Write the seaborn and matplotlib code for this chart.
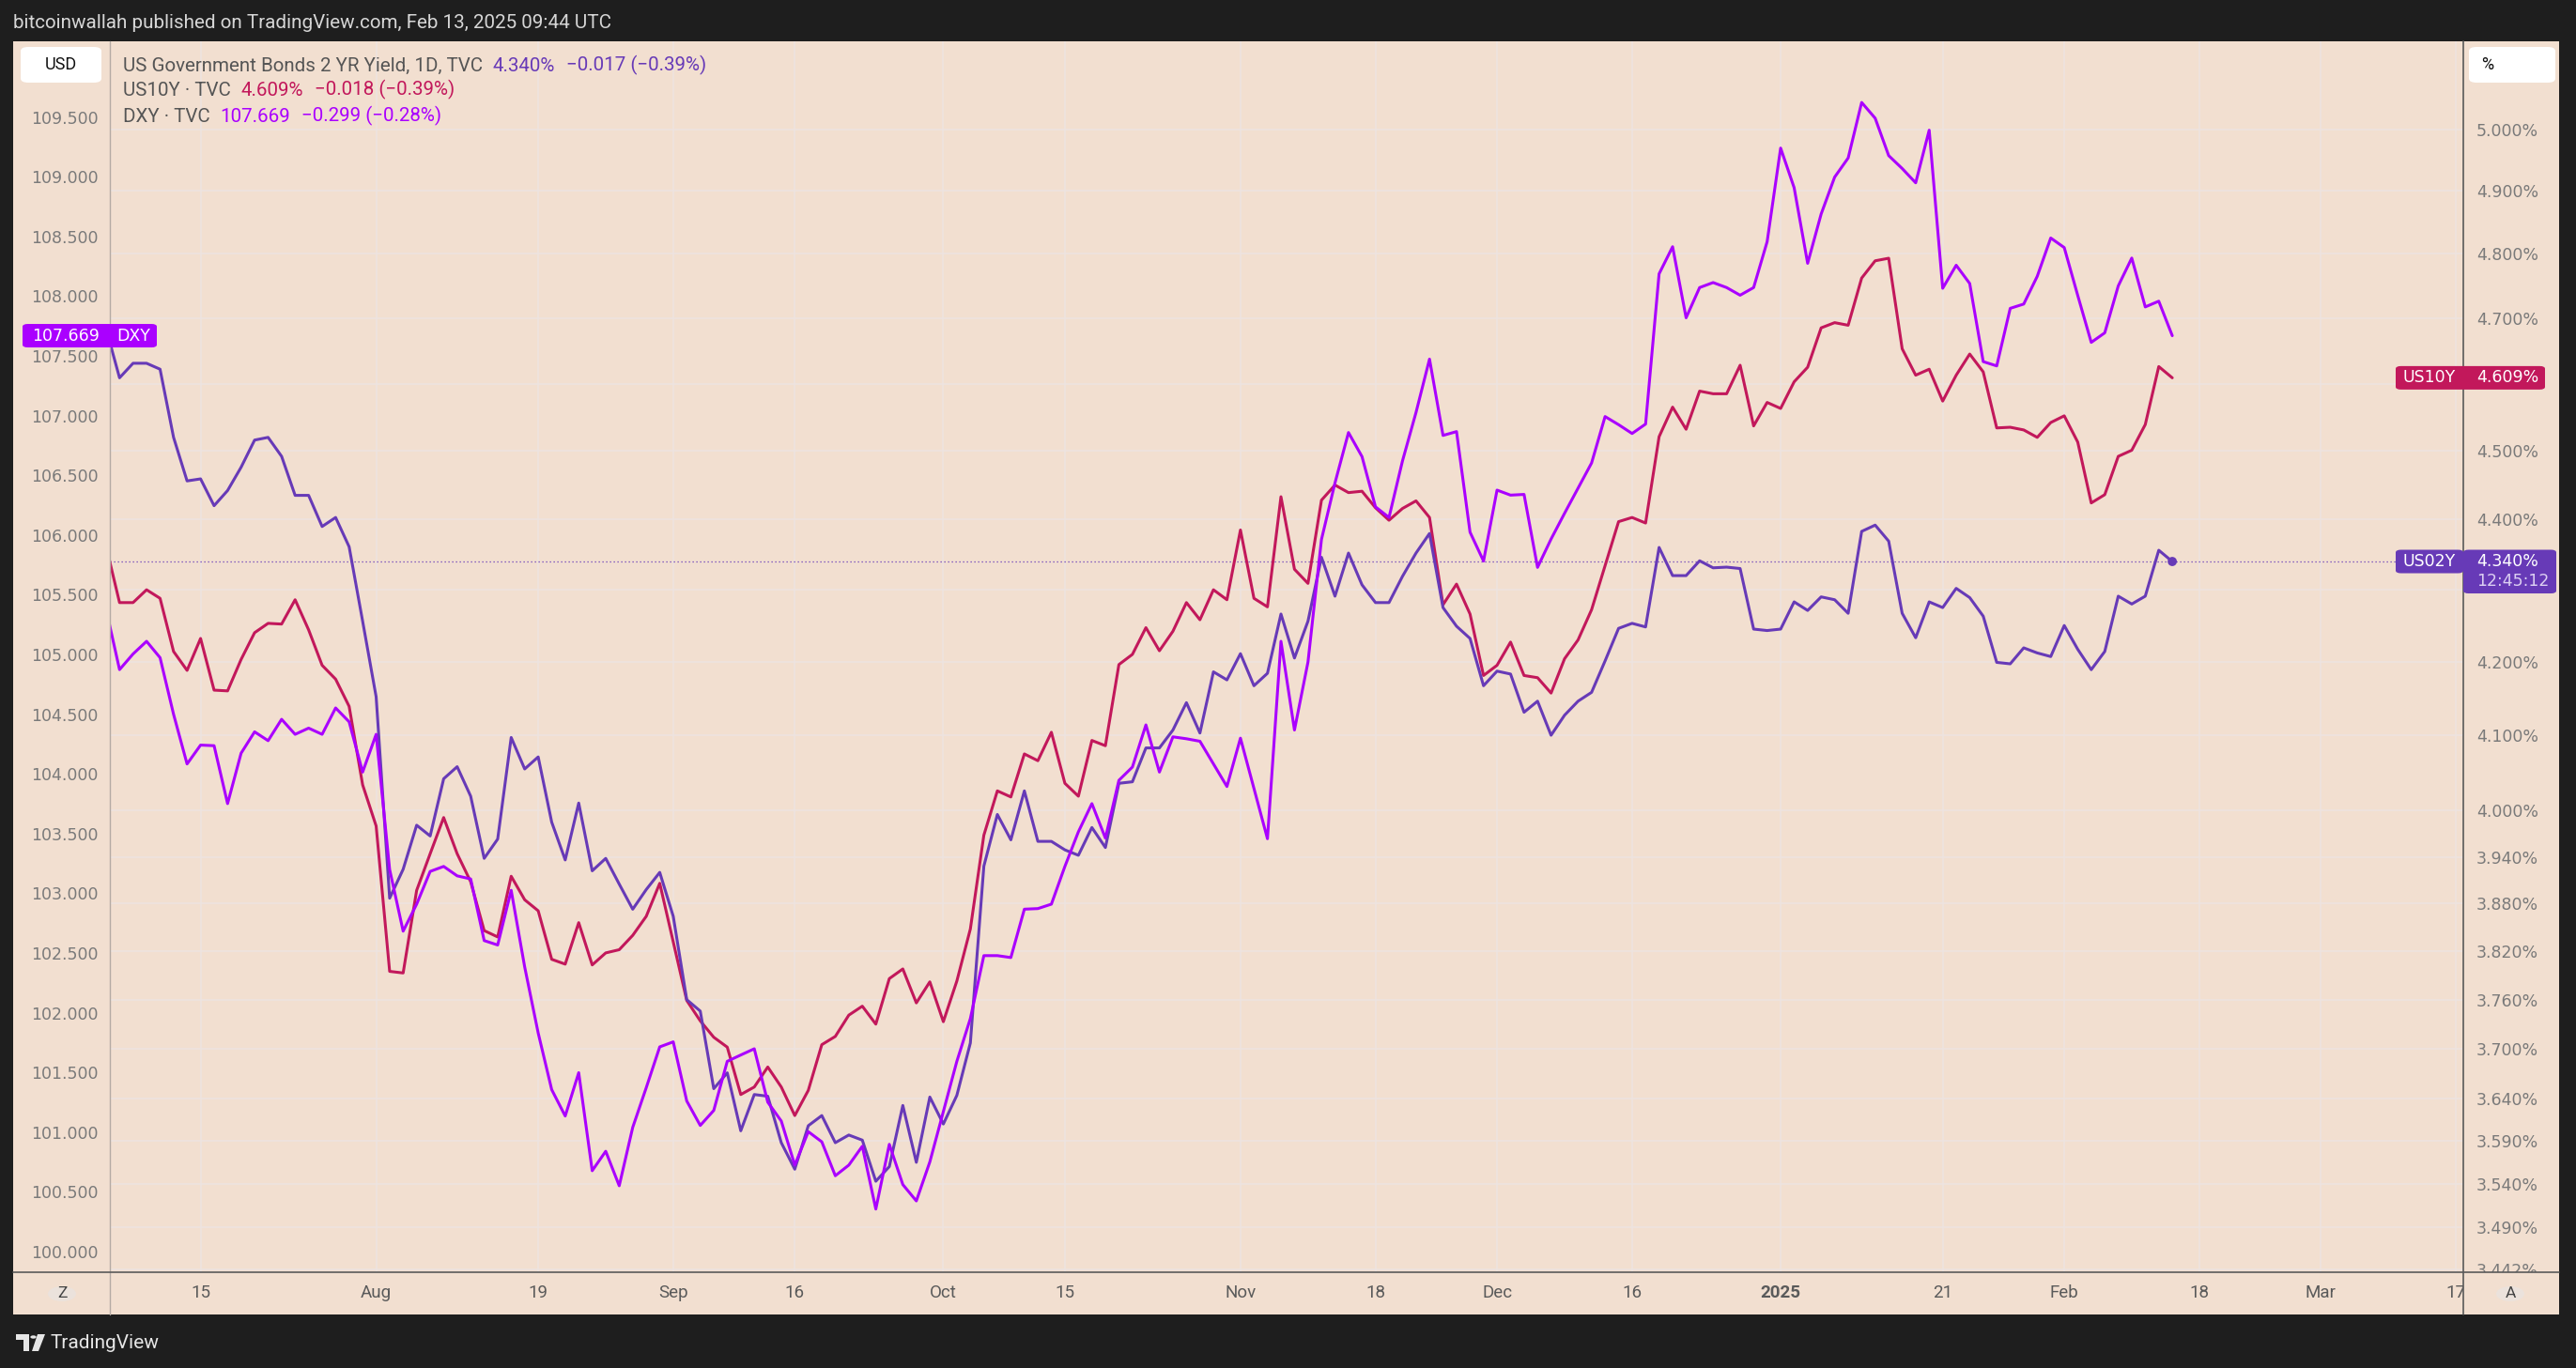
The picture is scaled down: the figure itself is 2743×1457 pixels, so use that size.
import numpy as np
import pandas as pd
import matplotlib
matplotlib.use("Agg")
import matplotlib.pyplot as plt
import seaborn as sns
from matplotlib.patches import Rectangle, FancyBboxPatch, Circle, Polygon
from matplotlib.ticker import FixedLocator, NullLocator, FixedFormatter

# ---------------------------------------------------------------- data
holidays = ["2024-07-04", "2024-09-02", "2024-10-14", "2024-11-11", "2024-11-28",
            "2024-12-25", "2025-01-01", "2025-01-20", "2025-02-17"]
first_date = "2024-07-03"
calendar_end = "2025-03-31"

us02y = [4.684, 4.609, 4.631, 4.631, 4.622, 4.520, 4.456, 4.459, 4.420, 4.442,
         4.476, 4.516, 4.520, 4.492, 4.435, 4.435, 4.390, 4.403, 4.361, 4.256,
         4.152, 3.887, 3.924, 3.981, 3.967, 4.042, 4.058, 4.019, 3.938, 3.963,
         4.097, 4.055, 4.071, 3.985, 3.936, 4.010, 3.922, 3.938, 3.905, 3.873,
         3.898, 3.920, 3.864, 3.760, 3.746, 3.652, 3.671, 3.602, 3.645, 3.643,
         3.588, 3.557, 3.608, 3.620, 3.588, 3.597, 3.591, 3.543, 3.560, 3.632,
         3.565, 3.642, 3.610, 3.644, 3.707, 3.928, 3.995, 3.962, 4.026, 3.960,
         3.960, 3.949, 3.942, 3.978, 3.952, 4.036, 4.038, 4.083, 4.083, 4.107,
         4.144, 4.103, 4.186, 4.175, 4.211, 4.167, 4.184, 4.266, 4.205, 4.256,
         4.346, 4.291, 4.352, 4.307, 4.282, 4.282, 4.319, 4.352, 4.380, 4.275,
         4.249, 4.232, 4.167, 4.187, 4.183, 4.131, 4.146, 4.100, 4.127, 4.146,
         4.158, 4.201, 4.246, 4.253, 4.248, 4.360, 4.320, 4.320, 4.341, 4.331,
         4.332, 4.330, 4.245, 4.243, 4.245, 4.283, 4.271, 4.290, 4.286, 4.267,
         4.383, 4.392, 4.369, 4.267, 4.233, 4.283, 4.275, 4.302, 4.289, 4.263,
         4.199, 4.197, 4.219, 4.212, 4.207, 4.250, 4.217, 4.189, 4.214, 4.291,
         4.280, 4.291, 4.356, 4.340]

us10y = [4.362, 4.282, 4.282, 4.300, 4.288, 4.214, 4.188, 4.232, 4.161, 4.160,
         4.203, 4.240, 4.253, 4.252, 4.286, 4.244, 4.195, 4.176, 4.139, 4.034,
         3.980, 3.795, 3.793, 3.897, 3.944, 3.991, 3.944, 3.908, 3.846, 3.838,
         3.915, 3.885, 3.871, 3.810, 3.804, 3.856, 3.803, 3.818, 3.822, 3.840,
         3.864, 3.906, 3.832, 3.759, 3.734, 3.714, 3.702, 3.645, 3.654, 3.678,
         3.654, 3.620, 3.650, 3.705, 3.715, 3.741, 3.752, 3.730, 3.786, 3.798,
         3.756, 3.782, 3.733, 3.783, 3.848, 3.968, 4.026, 4.018, 4.075, 4.066,
         4.104, 4.036, 4.019, 4.093, 4.086, 4.196, 4.210, 4.247, 4.215, 4.242,
         4.282, 4.258, 4.300, 4.286, 4.385, 4.288, 4.276, 4.433, 4.329, 4.309,
         4.428, 4.450, 4.439, 4.441, 4.417, 4.399, 4.416, 4.427, 4.403, 4.279,
         4.308, 4.266, 4.181, 4.195, 4.227, 4.181, 4.178, 4.157, 4.204, 4.230,
         4.272, 4.334, 4.397, 4.403, 4.395, 4.521, 4.565, 4.532, 4.589, 4.585,
         4.585, 4.628, 4.537, 4.572, 4.563, 4.603, 4.625, 4.685, 4.693, 4.689,
         4.762, 4.789, 4.793, 4.653, 4.613, 4.622, 4.574, 4.613, 4.645, 4.618,
         4.534, 4.535, 4.531, 4.520, 4.542, 4.552, 4.513, 4.424, 4.436, 4.492,
         4.501, 4.539, 4.626, 4.609]

dxy = [105.380, 104.873, 105.004, 105.110, 104.973, 104.499, 104.083, 104.241, 104.236, 103.751,
       104.173, 104.352, 104.278, 104.457, 104.331, 104.383, 104.331, 104.552, 104.436, 104.015,
       104.331, 103.199, 102.683, 102.909, 103.183, 103.225, 103.146, 103.120, 102.604, 102.567,
       103.025, 102.383, 101.830, 101.356, 101.135, 101.498, 100.677, 100.840, 100.551, 101.040,
       101.372, 101.714, 101.756, 101.261, 101.056, 101.182, 101.593, 101.646, 101.698, 101.251,
       101.093, 100.724, 101.004, 100.919, 100.635, 100.724, 100.882, 100.356, 100.898, 100.561,
       100.424, 100.751, 101.172, 101.593, 101.951, 102.478, 102.478, 102.462, 102.867, 102.872,
       102.909, 103.225, 103.515, 103.751, 103.462, 103.946, 104.057, 104.410, 104.015, 104.310,
       104.294, 104.273, 104.083, 103.894, 104.299, 103.878, 103.457, 105.110, 104.367, 104.936,
       105.963, 106.436, 106.858, 106.657, 106.236, 106.147, 106.621, 107.026, 107.473, 106.834,
       106.866, 106.024, 105.782, 106.376, 106.334, 106.340, 105.729, 105.966, 106.182, 106.392,
       106.603, 106.992, 106.924, 106.850, 106.929, 108.187, 108.414, 107.819, 108.072, 108.114,
       108.072, 108.008, 108.072, 108.456, 109.240, 108.908, 108.275, 108.688, 108.997, 109.157,
       109.622, 109.490, 109.177, 109.069, 108.949, 109.390, 108.066, 108.259, 108.106, 107.452,
       107.416, 107.898, 107.934, 108.166, 108.487, 108.407, 108.006, 107.613, 107.693, 108.086,
       108.319, 107.910, 107.958, 107.669]

legend_titles = ["US Government Bonds 2 YR Yield, 1D, TVC", "US10Y \u00b7 TVC", "DXY \u00b7 TVC"]
legend_values = ["4.340%", "4.609%", "107.669"]
legend_changes = ["\u22120.017 (\u22120.39%)", "\u22120.018 (\u22120.39%)", "\u22120.299 (\u22120.28%)"]

tick_dates = ["2024-07-15", "2024-08-01", "2024-08-19", "2024-09-03", "2024-09-16",
              "2024-10-01", "2024-10-15", "2024-11-01", "2024-11-18", "2024-12-02",
              "2024-12-16", "2025-01-02", "2025-01-21", "2025-02-03", "2025-02-18",
              "2025-03-03", "2025-03-17"]
tick_labels = ["15", "Aug", "19", "Sep", "16", "Oct", "15", "Nov", "18", "Dec",
               "16", "2025", "21", "Feb", "18", "Mar", "17"]

right_ticks = [5.0, 4.9, 4.8, 4.7, 4.6, 4.5, 4.4, 4.3, 4.2, 4.1, 4.0, 3.94, 3.88,
               3.82, 3.76, 3.70, 3.64, 3.59, 3.54, 3.49, 3.442]
right_hidden = [4.6, 4.3]          # labels covered by the last-price tags
left_ticks = [100.0, 100.5, 101.0, 101.5, 102.0, 102.5, 103.0, 103.5, 104.0, 104.5,
              105.0, 105.5, 106.0, 106.5, 107.0, 107.5, 108.0, 108.5, 109.0, 109.5]

header_text = "bitcoinwallah published on TradingView.com, Feb 13, 2025 09:44 UTC"
countdown = "12:45:12"

# ---------------------------------------------------------------- style
C02, C10, CDX = "#673AB7", "#C2185B", "#AA00FF"
BG = "#F2DFD0"
DARK = "#1E1E1E"
GRID = "#EDE4E0"
AXTXT = "#7A7A7A"
LW = 2.2

sns.set_style("white")
plt.rcParams["font.family"] = ["Roboto", "DejaVu Sans"]
AXFONT = ["DejaVu Sans"]

W, H, DPI = 2743, 1457, 100
fig = plt.figure(figsize=(W / DPI, H / DPI), dpi=DPI, facecolor=DARK)

def fx(px):
    return px / W

def fy(py):
    return 1 - py / H

PL, PR, PT, PB = 117, 2623, 44, 1355
PANEL_L, PANEL_R, PANEL_B = 14, 2725, 1400

fig.add_artist(Rectangle((fx(PANEL_L), fy(PANEL_B)), fx(PANEL_R - PANEL_L), (PANEL_B - PT) / H,
                         transform=fig.transFigure, facecolor=BG, edgecolor="none", zorder=-1))

cal = pd.bdate_range(first_date, calendar_end, freq="C", holidays=holidays)
n = len(us02y)
df = pd.DataFrame({"bar": np.arange(n), "date": cal[:n],
                   "US02Y": us02y, "US10Y": us10y, "DXY": dxy})

ax = fig.add_axes([fx(PL), fy(PB), fx(PR - PL), (PB - PT) / H])
ax.set_facecolor(BG)
ax_d = ax.twinx()

xmin, xmax = 0.284, 174.55
ax.set_xlim(xmin, xmax)

# yields (log, right scale)
ax.set_yscale("log")
ax.set_ylim(3.439, 5.1458)
sns.lineplot(data=df, x="bar", y="US10Y", ax=ax, color=C10, lw=LW, estimator=None, legend=False)
sns.lineplot(data=df, x="bar", y="US02Y", ax=ax, color=C02, lw=LW, estimator=None, legend=False)
ax.axhline(us02y[-1], color=C02, lw=0.9, ls=(0, (1, 2.2)), zorder=1)
sns.scatterplot(x=[df["bar"].iloc[-1]], y=[us02y[-1]], ax=ax, color=C02, s=50,
                edgecolor="none", zorder=5, legend=False)

ax.yaxis.set_major_locator(FixedLocator(right_ticks))
ax.yaxis.set_minor_locator(NullLocator())
ax.yaxis.set_major_formatter(FixedFormatter(
    ["" if v in right_hidden else f"{v:.3f}%" for v in right_ticks]))
ax.yaxis.tick_right()
ax.tick_params(axis="y", which="both", length=0, pad=10, labelsize=12.5, labelcolor=AXTXT)
for lab in ax.get_yticklabels():
    lab.set_family(AXFONT)

tick_pos = [cal.get_loc(pd.Timestamp(d)) for d in tick_dates]
ax.set_xticks(tick_pos)
ax.tick_params(axis="x", length=0, labelbottom=False)
ax.grid(True, axis="both", color=GRID, lw=1.1)
ax.set_axisbelow(True)
ax.set_xlabel("")
ax.set_ylabel("")
for s in ax.spines.values():
    s.set_visible(False)

# DXY (linear, left scale)
ax_d.set_ylim(99.827, 110.134)
sns.lineplot(data=df, x="bar", y="DXY", ax=ax_d, color=CDX, lw=LW, estimator=None, legend=False)
ax_d.yaxis.tick_left()
ax_d.set_yticks(left_ticks)
ax_d.set_yticklabels([f"{v:.3f}" for v in left_ticks])
ax_d.tick_params(axis="y", length=0, pad=9, labelsize=12.5, labelcolor=AXTXT)
for lab in ax_d.get_yticklabels():
    lab.set_family(AXFONT)
ax_d.set_ylabel("")
ax_d.grid(False)
for s in ax_d.spines.values():
    s.set_visible(False)

# bottom time strip
fig.add_artist(Rectangle((fx(PANEL_L), fy(PANEL_B)), fx(PANEL_R - PANEL_L), (PANEL_B - PB) / H,
                         transform=fig.transFigure, facecolor=BG, edgecolor="none", zorder=0.5))
ax_s = fig.add_axes([fx(PL), fy(PANEL_B), fx(PR - PL), (PANEL_B - PB) / H])
ax_s.set_zorder(1)
ax_s.patch.set_visible(False)
ax_s.set_xlim(xmin, xmax)
ax_s.set_ylim(0, 1)
ax_s.axis("off")
for p, lab in zip(tick_pos, tick_labels):
    ax_s.text(p, 0.5, lab, ha="center", va="center", fontsize=13.5, color="#5a5a5a",
              fontweight="bold" if lab == "2025" else "normal", clip_on=True)

def vline(x, y0, y1, color, lw):
    fig.add_artist(plt.Line2D([fx(x), fx(x)], [fy(y0), fy(y1)], transform=fig.transFigure,
                              color=color, lw=lw, zorder=2))

def hline(y, x0, x1, color, lw):
    fig.add_artist(plt.Line2D([fx(x0), fx(x1)], [fy(y), fy(y)], transform=fig.transFigure,
                              color=color, lw=lw, zorder=2))

vline(PL, PT, PANEL_B, "#B5ABA4", 1.0)
vline(PR, PT, PANEL_B, "#5A5A5A", 1.2)
hline(PB, PANEL_L, PANEL_R, "#5A5A5A", 1.2)

# unit buttons
fig.add_artist(FancyBboxPatch((fx(22), fy(88)), fx(86), 38 / H, boxstyle="round,pad=0,rounding_size=0.003",
                              transform=fig.transFigure, facecolor="white", edgecolor="none", zorder=3))
fig.text(fx(65), fy(69), "USD", ha="center", va="center", fontsize=13, color="#111111", zorder=4)
fig.add_artist(FancyBboxPatch((fx(2629), fy(88)), fx(92), 38 / H, boxstyle="round,pad=0,rounding_size=0.003",
                              transform=fig.transFigure, facecolor="white", edgecolor="none", zorder=3))
fig.text(fx(2642), fy(69), "%", ha="left", va="center", fontsize=13, color="#111111", zorder=4)

for cx, t in [(66, "Z"), (2673, "A")]:
    fig.add_artist(Circle((fx(cx), fy(1378)), 15 / W, transform=fig.transFigure,
                          facecolor="#EBE2DC", edgecolor="none", zorder=3))
    fig.text(fx(cx), fy(1378), t, ha="center", va="center", fontsize=12.5, color="#444444", zorder=4)

# price labels on the scales
def yfig(axis, v):
    return axis.transData.transform((0, v))[1] / fig.bbox.height

def box(x0, x1, yc, h_top, h_bot, color):
    fig.add_artist(FancyBboxPatch((fx(x0), yc - h_bot / H), fx(x1 - x0), (h_top + h_bot) / H,
                                  boxstyle="round,pad=0,rounding_size=0.002",
                                  transform=fig.transFigure, facecolor=color, edgecolor="none", zorder=5))

y_dx = yfig(ax_d, dxy[-1])
box(24, 167, y_dx, 12.5, 12.5, CDX)
fig.text(fx(70), y_dx, f"{dxy[-1]:.3f}", ha="center", va="center", fontsize=12.5, color="white",
         family=AXFONT, zorder=6)
fig.text(fx(142), y_dx, "DXY", ha="center", va="center", fontsize=12.5, color="white",
         family=AXFONT, zorder=6)

y_10 = yfig(ax, us10y[-1])
box(2551, 2710, y_10, 12.5, 12.5, C10)
fig.text(fx(2587), y_10, "US10Y", ha="center", va="center", fontsize=12.5, color="white",
         family=AXFONT, zorder=6)
fig.text(fx(2637), y_10, f"{us10y[-1]:.3f}%", ha="left", va="center", fontsize=12.5, color="white",
         family=AXFONT, zorder=6)

y_02 = yfig(ax, us02y[-1])
box(2551, 2623, y_02, 12.5, 12.5, C02)
box(2623, 2722, y_02, 12.5, 34, C02)
fig.text(fx(2587), y_02, "US02Y", ha="center", va="center", fontsize=12.5, color="white",
         family=AXFONT, zorder=6)
fig.text(fx(2637), y_02, f"{us02y[-1]:.3f}%", ha="left", va="center", fontsize=12.5, color="white",
         family=AXFONT, zorder=6)
fig.text(fx(2637), y_02 - 21 / H, countdown, ha="left", va="center", fontsize=12.5, color="#DCCFF2",
         family=AXFONT, zorder=6)

# legend block
leg_colors = [C02, C10, CDX]
leg_y = [70, 97, 124]
LEG_FS = 14.8
for title, val, chg, col, yy in zip(legend_titles, legend_values, legend_changes, leg_colors, leg_y):
    t0 = fig.text(fx(131), fy(yy), title, ha="left", va="center", fontsize=LEG_FS, color="#555555", zorder=6)
    t1 = ax.annotate(val, xy=(1, 0), xycoords=t0, xytext=(7.5, 0), textcoords="offset points",
                     ha="left", va="bottom", fontsize=LEG_FS, color=col, zorder=6)
    ax.annotate(chg, xy=(1, 0), xycoords=t1, xytext=(9, 0), textcoords="offset points",
                ha="left", va="bottom", fontsize=LEG_FS, color=col, zorder=6)

# header and footer
fig.text(fx(14), fy(25), header_text, ha="left", va="center", fontsize=14.9, color="#D6D6D6")
fig.add_artist(Polygon([[fx(17), fy(1421)], [fx(31), fy(1421)], [fx(31), fy(1439)],
                        [fx(25), fy(1439)], [fx(25), fy(1427)], [fx(17), fy(1427)]],
                       closed=True, transform=fig.transFigure, facecolor="#E6E6E6", edgecolor="none"))
fig.add_artist(Circle((fx(35.5), fy(1424)), 3.2 / W, transform=fig.transFigure,
                      facecolor="#E6E6E6", edgecolor="none"))
fig.add_artist(Polygon([[fx(40), fy(1421)], [fx(48), fy(1421)], [fx(41), fy(1439)], [fx(34), fy(1439)]],
                       closed=True, transform=fig.transFigure, facecolor="#E6E6E6", edgecolor="none"))
fig.text(fx(53), fy(1430), "TradingView", ha="left", va="center", fontsize=15, color="#E6E6E6")

fig.savefig("out.png", dpi=DPI, facecolor=DARK)
